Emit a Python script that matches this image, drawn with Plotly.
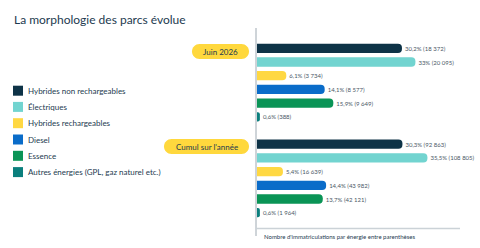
import plotly.graph_objects as go

# ---- data ----
energies = ["Hybrides non rechargeables", "Électriques", "Hybrides rechargeables",
            "Diesel", "Essence", "Autres énergies (GPL, gaz naturel etc.)"]
colors = ["#0e3347", "#72d4d0", "#ffd842", "#0a6cc9", "#0a9456", "#0b7f7d"]
periods = ["Juin 2026", "Cumul sur l'année"]
pct_juin = [30.2, 33, 6.1, 14.1, 15.9, 0.6]
cnt_juin = [18372, 20095, 3734, 8577, 9649, 388]
pct_cumul = [30.3, 35.5, 5.4, 14.4, 13.7, 0.6]
cnt_cumul = [92863, 108805, 16639, 43982, 42121, 1964]
title = "La morphologie des parcs évolue"
note = "Nombre d'immatriculations par énergie entre parenthèses"

NAVY = "#1d3a4f"
FONT = "Lato"

# ---- layout geometry (pixels) ----
W, H = 480, 248
L, R, T, B = 257, 2, 28, 20
PW, PH = W - L - R, H - T - B


def px(x):
    return (x - L) / PW


def py(y):
    return (H - B - y) / PH


def fmt(p, c):
    ps = f"{p:g}".replace(".", ",")
    cs = f"{c:,}".replace(",", " ")
    return f"{ps}% ({cs})"


fig = go.Figure()
n = len(energies)
for i in range(n):
    fig.add_trace(go.Bar(
        x=[pct_juin[i], pct_cumul[i]],
        y=[i, i + n + 1],
        orientation="h",
        width=0.68,
        marker=dict(color=colors[i], line=dict(width=0)),
        text=[fmt(pct_juin[i], cnt_juin[i]), fmt(pct_cumul[i], cnt_cumul[i])],
        textposition="outside",
        textfont=dict(size=6, color="#4a5866", family=FONT),
        constraintext="none",
        cliponaxis=False,
        name=energies[i],
        showlegend=False,
        hoverinfo="skip",
    ))

slot = 13.7
ymin = -(48.3 - T) / slot
ymax = ymin + PH / slot

shapes = []
annotations = []

# axis lines
shapes.append(dict(type="line", xref="paper", yref="paper",
                   x0=px(256), x1=px(256), y0=py(28), y1=py(236),
                   line=dict(color="#9ea9b2", width=1)))
shapes.append(dict(type="line", xref="paper", yref="paper",
                   x0=px(256), x1=px(460), y0=py(228.5), y1=py(228.5),
                   line=dict(color="#cbd2d7", width=1.5)))


def pill(cx, cy, w, h):
    r = h / 2
    hw = w / 2
    k = 0.5523 * r
    path = (f"M {-hw + r},{-r} L {hw - r},{-r} "
            f"C {hw - r + k},{-r} {hw},{-k} {hw},0 "
            f"C {hw},{k} {hw - r + k},{r} {hw - r},{r} "
            f"L {-hw + r},{r} "
            f"C {-hw + r - k},{r} {-hw},{k} {-hw},0 "
            f"C {-hw},{-k} {-hw + r - k},{-r} {-hw + r},{-r} Z")
    return dict(type="path", xref="paper", yref="paper",
                xsizemode="pixel", ysizemode="pixel",
                xanchor=px(cx), yanchor=py(cy), path=path,
                fillcolor="#ffd83d", line=dict(width=0), layer="above")


pills = [(220.5, 51.5, 57, 15), (206.5, 146.5, 85, 15)]
for (cx, cy, w, h), label in zip(pills, periods):
    shapes.append(pill(cx, cy, w, h))
    annotations.append(dict(xref="paper", yref="paper", x=px(cx), y=py(cy),
                            text=label, showarrow=False,
                            xanchor="center", yanchor="middle",
                            font=dict(size=8, color=NAVY, family=FONT)))

# legend
leg_y = [90.7, 106.9, 123.2, 139.5, 155.8, 172.1]
for i in range(n):
    cy = leg_y[i]
    shapes.append(dict(type="rect", xref="paper", yref="paper",
                       x0=px(13), x1=px(23), y0=py(cy - 5), y1=py(cy + 5),
                       fillcolor=colors[i], line=dict(width=0)))
    annotations.append(dict(xref="paper", yref="paper", x=px(26.5), y=py(cy),
                            text=energies[i], showarrow=False,
                            xanchor="left", yanchor="middle",
                            font=dict(size=8, color=NAVY, family=FONT)))

# title and note
annotations.append(dict(xref="paper", yref="paper", x=px(12.5), y=py(19.5),
                        text=title, showarrow=False,
                        xanchor="left", yanchor="middle",
                        font=dict(size=12, color=NAVY, family=FONT)))
annotations.append(dict(xref="paper", yref="paper", x=px(261.5), y=py(236),
                        text=note, showarrow=False,
                        xanchor="left", yanchor="middle",
                        font=dict(size=6, color=NAVY, family=FONT)))

fig.update_layout(
    width=W, height=H,
    margin=dict(l=L, r=R, t=T, b=B, pad=0),
    paper_bgcolor="white", plot_bgcolor="white",
    barmode="overlay",
    barcornerradius=5,
    xaxis=dict(range=[0, PW / 4.8], visible=False, fixedrange=True),
    yaxis=dict(range=[ymax, ymin], visible=False, fixedrange=True),
    shapes=shapes,
    annotations=annotations,
    font=dict(family=FONT, color=NAVY),
)

fig.write_html("out.html", config={"displayModeBar": False})
